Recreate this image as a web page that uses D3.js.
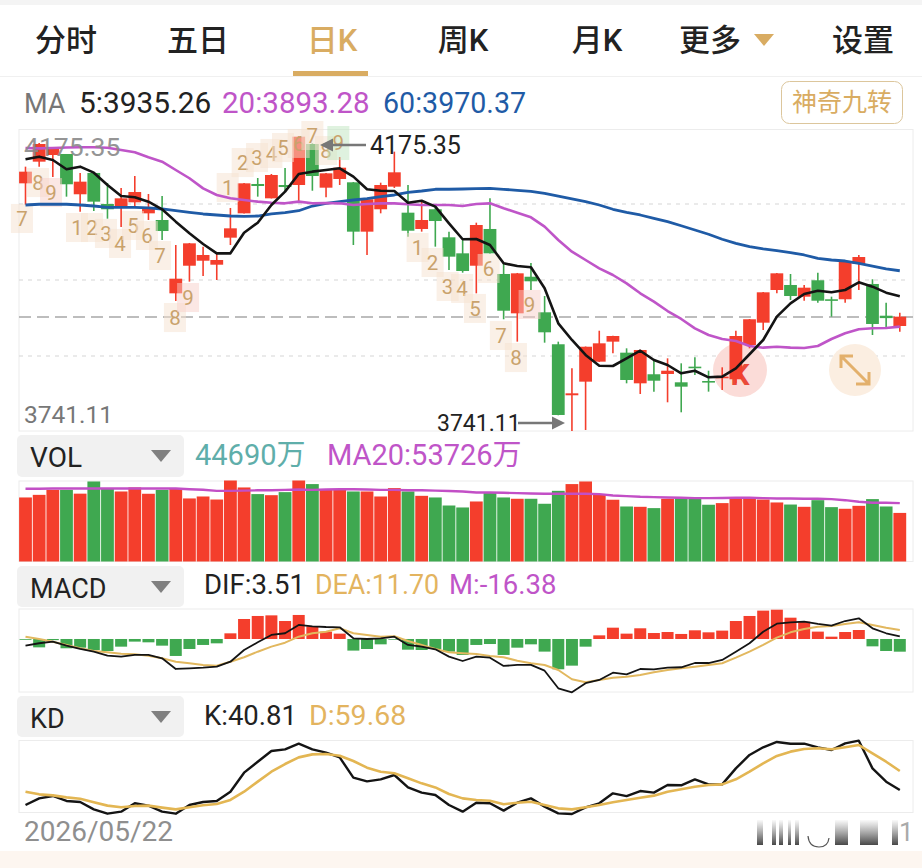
<!DOCTYPE html>
<html><head><meta charset="utf-8">
<style>html,body{margin:0;padding:0;background:#fff;overflow:hidden}svg{display:block}
text{font-family:Roboto,"Noto Sans CJK SC",sans-serif}</style>
<script src="https://cdn.jsdelivr.net/npm/d3@7/dist/d3.min.js"></script></head><body>
<script>
const opens =[4091.0,4120.9,4130.1,4131.5,4075.9,4105.3,4062.5,4057.4,4064.8,4049.6,4040.4,3939.2,3977.3,3984.2,3978.7,4016.0,4049.6,4090.1,4070.3,4088.7,4088.7,4145.3,4085.0,4097.0,4092.4,4024.3,4055.2,4086.4,4050.5,4028.0,4055.2,4016.5,3994.4,3977.3,4028.0,3965.9,3911.6,3962.1,3913.0,3868.9,3798.5,3817.3,3844.9,3872.5,3857.3,3815.0,3827.5,3827.9,3816.4,3838.0,3818.2,3822.4,3820.6,3867.9,3898.7,3943.8,3950.7,3934.6,3957.2,3931.0,3931.0,3979.7,3952.1,3908.3,3894.1];
const closes=[4107.1,4145.3,4139.3,4089.7,4093.3,4065.7,4055.2,4070.3,4079.0,4056.5,4025.2,3959.4,4008.2,3992.1,3985.2,4028.9,4091.0,4087.3,4102.5,4085.9,4155.4,4101.1,4104.8,4112.6,4024.3,4069.0,4088.7,4106.2,4025.6,4040.4,4039.0,3989.8,3970.0,4033.5,3994.4,3915.2,3966.8,3955.8,3885.4,3771.3,3801.2,3865.5,3870.2,3880.3,3819.6,3861.0,3818.6,3832.4,3810.4,3836.6,3816.4,3824.2,3880.3,3903.4,3940.6,3966.8,3935.5,3947.0,3929.0,3929.6,3982.9,3989.3,3896.9,3905.0,3907.0];
const highs =[4114.0,4146.7,4139.8,4131.5,4105.3,4105.3,4091.5,4084.6,4101.1,4076.3,4073.5,4005.9,4008.7,4003.6,3994.9,4057.0,4091.5,4098.4,4103.9,4112.2,4156.3,4146.0,4105.3,4127.3,4092.8,4069.4,4091.9,4134.7,4088.7,4068.0,4061.1,4024.3,4012.8,4036.7,4070.3,3981.1,3967.3,3981.1,3935.5,3872.5,3835.7,3865.8,3887.6,3880.6,3863.3,3861.4,3848.2,3849.5,3842.6,3850.9,3832.4,3837.1,3887.6,3903.8,3941.0,3967.3,3965.9,3950.7,3967.7,3934.6,3983.1,3992.1,3958.6,3926.3,3912.5];
const lows  =[4061.1,4114.0,4099.7,4072.6,4051.9,4052.8,4042.2,4030.7,4058.3,4040.4,4012.8,3928.6,3955.3,3963.1,3957.6,4005.9,4049.4,4072.6,4070.1,4079.0,4065.7,4080.8,4071.7,4088.7,4005.9,3992.1,4049.6,4084.6,4017.4,4024.3,4003.6,3971.4,3967.7,3939.2,3994.2,3903.4,3872.5,3943.8,3871.1,3770.9,3749.2,3750.6,3844.4,3856.4,3815.0,3800.3,3803.5,3788.8,3775.0,3826.5,3803.5,3805.8,3815.0,3863.3,3888.6,3939.2,3930.0,3929.0,3926.3,3907.0,3926.3,3943.8,3881.7,3890.9,3886.3];
const ma5 =[4124.2,4127.8,4123.2,4110.4,4114.0,4105.7,4088.7,4073.5,4071.7,4065.7,4055.2,4038.1,4022.0,4007.3,3994.4,3994.4,4022.9,4036.7,4061.1,4079.5,4103.9,4107.1,4109.4,4111.7,4100.2,4082.8,4080.8,4080.4,4064.3,4067.0,4058.8,4035.8,4013.8,4014.2,4005.9,3980.6,3976.9,3975.1,3946.1,3897.8,3874.8,3854.1,3839.3,3838.9,3849.5,3860.0,3847.2,3840.3,3828.8,3832.4,3823.3,3824.2,3835.7,3855.1,3874.8,3907.0,3925.4,3938.3,3942.8,3940.6,3943.8,3954.4,3948.4,3940.1,3935.26];
const ma20=[4139.8,4139.3,4139.8,4140.5,4140.7,4140.7,4140.2,4137,4133.8,4126.9,4120.9,4109.4,4098,4084.1,4074.9,4070.3,4068,4065.7,4064.3,4063.4,4065.7,4063.4,4063.9,4063.4,4061.1,4062.5,4063.4,4063.4,4062.1,4061.1,4061.1,4061.1,4059.7,4062.5,4063.4,4056.5,4050.5,4044.1,4031.2,4012.8,3996.7,3985.2,3973.7,3964.5,3953,3939.2,3927.7,3914.8,3903.8,3890.9,3881.7,3876.2,3873.4,3866.5,3864.2,3865.5,3864.2,3863.8,3866.5,3876.2,3884,3889.6,3890.9,3891.4,3893.28];
const ma60=[4061.1,4062.1,4062.1,4062.1,4061.1,4059.7,4057.9,4057.9,4057.9,4057,4055.6,4053.2,4051,4048.7,4047.3,4045.9,4045.5,4045.9,4048.7,4050.5,4053.2,4059.7,4063.4,4065.7,4068,4069.8,4072.6,4074.9,4078.6,4080.4,4082.8,4082.8,4083.2,4083.6,4084.1,4082.8,4081.4,4080,4077.2,4073.5,4069.4,4065.7,4061.1,4055.2,4051,4047.3,4042.7,4038.1,4032.5,4026.6,4020.7,4013.8,4008.2,4003.6,4000.4,3998,3995.3,3992.1,3987.5,3985.2,3983.8,3980.6,3976.9,3972.8,3970.37];
const volumes=[58900,61300,65900,65900,62400,73600,67500,64400,68100,62300,65900,66900,58000,59800,57000,74500,68100,62000,61000,63800,74500,71200,65900,66500,64400,64400,59800,67500,64400,60400,58900,51500,49700,55200,63500,58900,57700,57700,53100,65000,71200,73600,62000,56800,50600,50300,49100,57700,58300,59200,52200,53700,59200,58900,57000,54300,52400,50300,56400,50000,48500,51200,57400,50600,44690];
const volMa20=[66900,66900,67200,67200,67200,67200,67200,67200,67200,67200,67200,67200,66500,66000,65000,65000,65200,65500,65500,65900,66200,65900,66200,66500,66500,66200,65900,65900,65500,65500,65200,64800,64400,63500,63500,63200,62900,62600,62300,62300,62300,62300,62000,60700,60100,59500,59200,58900,58600,58300,58300,58400,58600,58600,58300,58000,58000,57700,57700,57400,56400,54900,54000,54000,53726];
const macdM=[-1,-10.8,-1.5,-12,-11.2,-14.2,-15.5,-9.9,-3.4,-4.3,-8.6,-21.9,-12.9,-7.7,-5.6,7.3,25.8,29.7,30.5,23.2,31,16.3,9.5,6.9,-15,-12.9,-6.9,-0.9,-13.8,-14.2,-12.9,-16.3,-20.6,-7.7,-6.5,-20.6,-11.2,-6.9,-16.3,-39.1,-34.4,-9.9,4.7,14.6,6.9,13.8,7.7,9,6.5,11.2,8.6,10.8,23.2,29.7,36.6,37.8,27.5,22.4,9.5,3,9,11.6,-9.5,-15.5,-16.38];
const macdDif=[-8.6,-5.5,-3.5,-8.6,-12.9,-16.4,-21.5,-22.8,-20.6,-20.6,-24.9,-38.7,-37.8,-37,-35.7,-29.3,-14.2,-4.3,5.2,7.4,18.1,16.4,15.5,15.1,0.9,0,0.9,3,-7.7,-9.9,-13.3,-22.8,-28.4,-22.8,-24.1,-34.8,-33.5,-33.5,-40.9,-63.6,-68.8,-57.1,-52.9,-43.5,-45.6,-38.7,-39.1,-37,-36.5,-31,-31,-27.1,-16.4,-5.5,9.4,19.7,21.5,22.3,19.4,17.2,23.2,26.7,13.8,7.4,3.51];
const macdDea=[3,0,-3.5,-7.7,-12,-15.5,-17.2,-19,-19.7,-21.5,-24.9,-29.3,-31.3,-33.5,-34.4,-29.3,-23.6,-16.4,-9.9,-4.8,3,7.4,9.4,13.8,7.4,5.2,3,3.5,-2.6,-7.7,-12.9,-17.2,-18.4,-19.4,-21.9,-23.6,-28,-31.3,-33.5,-40,-52,-55.9,-52.9,-49.9,-48.6,-46.4,-43,-40,-37.8,-35.7,-33.5,-31.3,-24.1,-16.4,-7.7,1.7,8.6,12.9,15.9,16.8,19.4,21.5,18.1,14.5,11.7];
const kdK=[25.9,32.5,34.9,29.9,28.9,21.6,17.3,19.3,27.6,25.3,19.3,17.3,25.9,28.9,29.9,39.1,58,68.9,79.5,81.2,86.8,81.2,77.9,73.2,53.1,49.4,51.4,55.7,43.4,38.2,35.8,25.9,19.3,28.2,27.6,20.3,28.2,32.5,24.3,17.6,17,23.6,27.6,37.5,34.8,39.8,38.2,45.8,45.5,51.4,46.4,46.4,62.3,75.6,83.2,88.5,86.8,86.8,83.2,80.5,87.1,89.8,62.3,49.1,40.81];
const kdD=[39.1,36.5,35.5,33.5,32.2,28.6,25.3,23.6,24.9,25.3,23.3,21.6,23.6,25.6,26.9,30.9,39.1,49.1,59,66.6,73.2,76.2,76.6,74.9,69.6,63,59,57.4,52.4,47.4,43.4,36.8,32.5,30.9,30.2,26.6,28.2,29.2,25.9,22.6,21.6,23.6,25.9,28.6,30.9,33.2,35.2,39.1,41.5,44.1,45.8,46.4,51.4,59,67.3,74.6,78.9,81.5,82.2,81.2,83.2,85.5,77.2,68.9,59.68];
const turnIndex=[-0.26,0.92,1.87,3.77,4.87,5.89,6.92,7.87,8.89,9.85,10.94,11.9,14.8,15.9,16.95,18,18.85,20,21,22,22.9,28.7,29.8,30.9,31.96,32.9,33.9,34.8,35.9,36.9];
const turnPrice=[4043.2,4092.8,4079,4030.7,4030.7,4022.5,4008.7,4033.5,4019.7,3992.1,3906.5,3934.1,4085.9,4120.4,4127.3,4132.9,4141.1,4146.7,4157.7,4137,4148,4003.1,3982.4,3949.3,3946.6,3919,3974.2,3881.7,3851.3,3924.5];
const turnText=["7","8","9","1","2","3","4","5","6","7","8","9","1","2","3","4","5","6","7","8","9","1","2","3","4","5","6","7","8","9"];
const gridPrices=[4062.5,3957.6,3852.7];
const midPrice=3906.5;
const tabs=["分时","五日","日K","周K","月K","更多","设置"];

const W=922,H=868;
const RED="#f43e2c",GREEN="#3fa850",PURPLE="#bf55c8",BLUE="#1f5ba6",GOLD="#d9ac62",BLACK="#141414";
const svg=d3.select("body").append("svg").attr("width",W).attr("height",H).attr("viewBox",`0 0 ${W} ${H}`);
const n=opens.length;
const x=d3.scaleLinear().domain([0,n-1]).range([25.5,899.8]);
const FL=19,FR=913;
const y=d3.scaleLinear().domain([3749.2,4164.6]).range([431,130]);
const yVol=d3.scaleLinear().domain([0,74500]).range([561.5,480.5]);
const yMacd=d3.scaleLinear().domain([-68.8,38.7]).range([692.3,609]);
const yKd=d3.scaleLinear().domain([17.97,90.46]).range([813,740]);
const up=i=>closes[i]>=opens[i];
const colr=i=>up(i)?RED:GREEN;
const idx=d3.range(n);
function txt(t,px,py,size,fill,anchor,weight){return svg.append("text").attr("x",px).attr("y",py).attr("font-size",size).attr("fill",fill).attr("text-anchor",anchor||"start").attr("font-weight",weight||400).text(t);}
function tri(cx,cy,w,h,fill){svg.append("path").attr("d",`M${cx-w/2},${cy-h/2}L${cx+w/2},${cy-h/2}L${cx},${cy+h/2}Z`).attr("fill",fill);}
function frame(t,b){svg.append("rect").attr("x",FL).attr("y",t).attr("width",FR-FL).attr("height",b-t).attr("fill","none").attr("stroke","#ececec").attr("stroke-width",1);}
function line(arr,sc,col,w){svg.append("path").datum(arr).attr("fill","none").attr("stroke",col).attr("stroke-width",w).attr("stroke-linejoin","round").attr("d",d3.line().x((d,i)=>x(i)).y(d=>sc(d)));}

// header
svg.append("rect").attr("width",W).attr("height",5).attr("fill","#f4f4f4");
const tabX=[66,198,332,463,597,710,863];
tabs.forEach((t,i)=>txt(t,tabX[i],51,31,i==2?GOLD:"#222","middle",500));
tri(764,40,20,12,GOLD);
svg.append("rect").attr("x",293).attr("y",71).attr("width",75).attr("height",5).attr("fill",GOLD);
svg.append("line").attr("x1",0).attr("x2",W).attr("y1",76.5).attr("y2",76.5).attr("stroke","#f0f0f0");
// MA legend
txt("MA",24,113,27,"#777");
txt("5:3935.26",79,113,29.8,"#222");
txt("20:3893.28",222,113,29.5,PURPLE);
txt("60:3970.37",383,113,28.6,BLUE);
svg.append("rect").attr("x",781.5).attr("y",81.5).attr("width",121).attr("height",42).attr("rx",8).attr("fill","#fff").attr("stroke","#dcc69c");
txt("神奇九转",842,111,25,GOLD,"middle");

// main panel
frame(129.5,431);
svg.selectAll(".g").data(gridPrices).enter().append("line").attr("x1",FL).attr("x2",FR-8).attr("y1",d=>y(d)).attr("y2",d=>y(d)).attr("stroke","#d6d6d6").attr("stroke-width",1.2).attr("stroke-dasharray","4 5");
svg.append("line").attr("x1",FL).attr("x2",FR).attr("y1",y(midPrice)).attr("y2",y(midPrice)).attr("stroke","#a8a8a8").attr("stroke-width",1.4).attr("stroke-dasharray","12 6");
// marker circles
svg.append("circle").attr("cx",740).attr("cy",370).attr("r",27).attr("fill","#fbdcd8");
svg.append("circle").attr("cx",855).attr("cy",370).attr("r",26).attr("fill","#fbeee1");
const arrowG=svg.append("g").attr("fill","none").attr("stroke","#e3b06c").attr("stroke-width",3);
arrowG.append("path").attr("d","M841,368V356H853M842,357L868,383M856,384H869V372");
txt("K",740,385,30,"#ea4a3a","middle",700);

// candles
const c=svg.append("g");
c.selectAll(".w").data(idx).enter().append("line").attr("x1",x).attr("x2",x).attr("y1",i=>y(highs[i])).attr("y2",i=>y(lows[i])).attr("stroke",colr).attr("stroke-width",1.6);
c.selectAll(".b").data(idx).enter().append("rect").attr("x",i=>x(i)-6.4).attr("width",12.8)
 .attr("y",i=>y(Math.max(opens[i],closes[i]))).attr("height",i=>Math.max(1.6,Math.abs(y(opens[i])-y(closes[i])))).attr("fill",colr);

// nine-turn labels
const lab=svg.append("g");
turnText.forEach((t,i)=>{
  const px=x(turnIndex[i]),py=y(turnPrice[i]);
  const first=i==20;
  const nine=t=="9"&&!first;
  lab.append("rect").attr("x",px-11).attr("y",py-(first?16:14)).attr("width",22).attr("height",first?34:29)
    .attr("fill",first?"#bfe6bf":nine?"#f8cfc9":"#f6e2cf").attr("fill-opacity",.5);
  lab.append("text").attr("x",px).attr("y",py+8).attr("text-anchor","middle").attr("font-size",20.5).attr("fill","#c9a26c").text(t);
});
// moving averages
line(ma60,y,BLUE,2.8);
line(ma20,y,PURPLE,2.6);
line(ma5,y,BLACK,2.6);
// extremes
txt("4175.35",24,156,26.5,"#8a8a8a").attr("opacity",.9);
txt("3741.11",24,423,24.5,"#777");
txt("4175.35",370,154,25,"#222");
txt("3741.11",437,430.5,23,"#222");
function arrow(x1,x2,yy){const d=x2>x1?1:-1;
 svg.append("line").attr("x1",x1).attr("x2",x2-d*8).attr("y1",yy).attr("y2",yy).attr("stroke","#777").attr("stroke-width",2.4);
 svg.append("path").attr("d",`M${x2},${yy}L${x2-d*13},${yy-6.5}L${x2-d*13},${yy+6.5}Z`).attr("fill","#777");}
arrow(366,320,145);arrow(518,565,423);

// dropdown boxes
function box(t,top,h,size){svg.append("rect").attr("x",17).attr("y",top).attr("width",167).attr("height",h).attr("rx",5).attr("fill","#f1f1f1");
 txt(t,30,top+32,size,"#222");tri(161,top+21,20,12,"#808080");}
box("VOL",435,42,28);box("MACD",566,41,27);box("KD",696,41,27);
txt("44690万",195,465,29,"#5faeaa");
txt("MA20:53726万",327,465,29,PURPLE);
txt("DIF:3.51",204,594,27.5,"#222");
txt("DEA:11.70",315,594,26.8,"#e3b45f");
txt("M:-16.38",449,594,27.5,PURPLE);
txt("K:40.81",204,725,27.5,"#222");
txt("D:59.68",309,725,28.5,"#e3b45f");

// volume
frame(481,561.5);
svg.append("g").selectAll("rect").data(idx).enter().append("rect").attr("x",i=>x(i)-6.4).attr("width",12.8)
 .attr("y",i=>yVol(volumes[i])).attr("height",i=>yVol(0)-yVol(volumes[i])).attr("fill",colr);
line(volMa20,yVol,"#c24fc6",2.4);

// MACD
frame(609,692);
svg.append("g").selectAll("rect").data(idx).enter().append("rect").attr("x",i=>x(i)-6).attr("width",12)
 .attr("y",i=>Math.min(yMacd(0),yMacd(macdM[i]))).attr("height",i=>Math.abs(yMacd(macdM[i])-yMacd(0))).attr("fill",i=>macdM[i]>=0?RED:GREEN);
line(macdDea,yMacd,"#e2b85f",2);
line(macdDif,yMacd,BLACK,1.8);

// KD
frame(740.5,812.5);
line(kdK,yKd,BLACK,2.4);
line(kdD,yKd,"#e3b653",2.6);

txt("2026/05/22",24,841,28,"#8f8f8f");
// bottom band
svg.append("rect").attr("y",851).attr("width",W).attr("height",17).attr("fill","#fdf6f0");
// masked footer
const defs=svg.append("defs");
const gr=defs.append("linearGradient").attr("id","fade").attr("x1",0).attr("x2",0).attr("y1",0).attr("y2",1);
gr.append("stop").attr("offset",0).attr("stop-color","#555").attr("stop-opacity",.03);
gr.append("stop").attr("offset",1).attr("stop-color","#333").attr("stop-opacity",.9);
const footerBars=[[757,6],[772,4],[779,4],[788,3],[795,4],[835,13],[860,18],[892,6]];
svg.append("g").selectAll("rect").data(footerBars).enter().append("rect").attr("x",d=>d[0]).attr("y",820).attr("width",d=>d[1]).attr("height",25).attr("fill","url(#fade)");
svg.append("path").attr("d","M808,836Q809,847 819,847Q828,847 829,838").attr("fill","none").attr("stroke","#555").attr("stroke-width",1.2);
txt("1",899,841,26,"#aaa");
</script></body></html>
